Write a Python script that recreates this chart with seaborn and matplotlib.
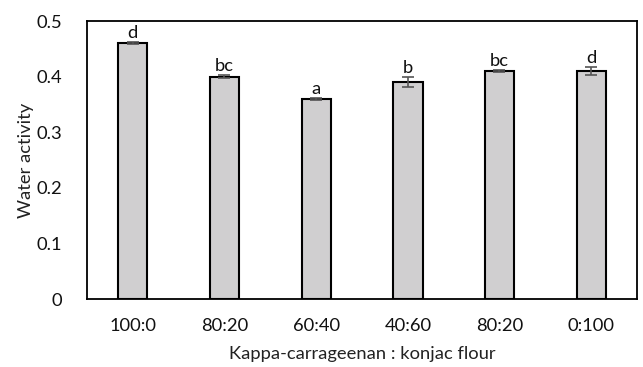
import matplotlib
matplotlib.use("Agg")
import matplotlib.pyplot as plt
import seaborn as sns
import pandas as pd
import numpy as np

labels = ["100:0", "80:20", "60:40", "40:60", "80:20", "0:100"]
values = [0.46, 0.40, 0.36, 0.39, 0.41, 0.41]
errors = [0.002, 0.003, 0.002, 0.009, 0.002, 0.007]
letters = ["d", "bc", "a", "b", "bc", "d"]

sns.set_theme(style="white")
plt.rcParams['font.family'] = ['Lato', 'DejaVu Sans']

df = pd.DataFrame({"idx": [str(i) for i in range(len(labels))], "val": values})

FS = 13.2
fig = plt.figure(figsize=(6.43, 3.67), dpi=100)
ax = fig.add_axes([87/643, 1 - 299/367, (637-87)/643, (299-21)/367])
sns.barplot(data=df, x="idx", y="val", color="#d0cfd0", edgecolor="black",
            linewidth=1.5, width=0.32, saturation=1, ax=ax, errorbar=None)
x = np.arange(len(values))
ax.errorbar(x, values, yerr=errors, fmt="none", ecolor="#555555",
            elinewidth=1.2, capsize=4, capthick=1.2)
for xi, v, e, t in zip(x, values, errors, letters):
    ax.text(xi, v + e + 0.002, t, ha="center", va="bottom", fontsize=FS, color="#111111")

ax.set_ylim(0, 0.5)
ax.set_yticks([0, 0.1, 0.2, 0.3, 0.4, 0.5])
ax.set_yticklabels(["0", "0.1", "0.2", "0.3", "0.4", "0.5"])
ax.set_xticks(x)
ax.set_xticklabels(labels)
ax.set_xlim(-0.5, len(values) - 0.5)
ax.tick_params(axis="y", labelsize=FS, length=0, pad=18, colors="#111111")
ax.tick_params(axis="x", labelsize=FS, length=0, pad=14, colors="#111111")
ax.set_xlabel("Kappa-carrageenan : konjac flour", fontsize=FS, labelpad=8, color="#222222")
ax.set_ylabel("Water activity", fontsize=FS, labelpad=1.5, color="#222222")
for s in ax.spines.values():
    s.set_color("black")
    s.set_linewidth(1.3)
    s.set_visible(True)

fig.savefig("out.png", dpi=100)
